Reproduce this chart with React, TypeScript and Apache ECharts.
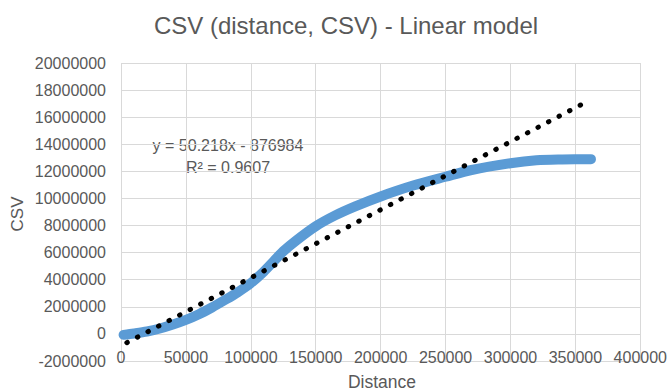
import React, { useEffect, useRef } from "react";
import * as echarts from "echarts";

const titleText = "CSV (distance, CSV) - Linear model";
const xAxisName = "Distance";
const yAxisName = "CSV";

const distance = [2000, 10000, 20000, 30000, 40000, 50000, 60000, 70000, 80000, 90000, 100000, 110000, 118000, 125000, 135000, 150000, 165000, 180000, 200000, 225000, 250000, 270000, 300000, 320000, 340000, 362000];
const csv = [-70000, 30000, 180000, 400000, 690000, 1030000, 1450000, 1950000, 2500000, 3080000, 3750000, 4600000, 5400000, 6100000, 6900000, 7950000, 8750000, 9400000, 10150000, 10950000, 11600000, 12100000, 12600000, 12820000, 12880000, 12900000];

const trendDistance = [4500, 361000];
const trendCsv = [-650000, 17250000];

const equationLines = ["y = 50.218x - 876984", "R² = 0.9607"];

const FONT = "'Liberation Sans', Arial, sans-serif";
const GRAY = "#595959";

export default function App() {
  const ref = useRef<HTMLDivElement>(null);
  useEffect(() => {
    document.body.style.margin = "0";
    const chart = echarts.init(ref.current!, null, { renderer: "svg" });
    const seriesData = distance.map((d, i) => [d, csv[i]]);
    const trendData = trendDistance.map((d, i) => [d, trendCsv[i]]);
    chart.setOption({
      animation: false,
      backgroundColor: "#ffffff",
      grid: { left: 121, right: 27, top: 63, bottom: 30 },
      xAxis: {
        type: "value",
        min: 0,
        max: 400000,
        interval: 50000,
        axisLine: { show: false },
        axisTick: { show: false },
        axisLabel: { color: GRAY, fontFamily: FONT, fontSize: 16, margin: -12, formatter: (v: number) => String(v) },
        splitLine: { show: true, lineStyle: { color: "#D9D9D9", width: 1 } },
      },
      yAxis: {
        type: "value",
        min: -2000000,
        max: 20000000,
        interval: 2000000,
        axisLine: { show: false },
        axisTick: { show: false },
        axisLabel: { color: GRAY, fontFamily: FONT, fontSize: 16, margin: 15, formatter: (v: number) => String(v) },
        splitLine: { show: true, lineStyle: { color: "#D9D9D9", width: 1 } },
      },
      series: [
        {
          type: "line",
          data: seriesData,
          smooth: 0.3,
          symbol: "none",
          lineStyle: { color: "#5B9BD5", width: 10, cap: "round", join: "round" },
          z: 2,
        },
        {
          type: "line",
          data: trendData,
          symbol: "none",
          lineStyle: { color: "#000000", width: 5, type: [0.5, 11.4], cap: "round" },
          z: 3,
        },
      ],
      graphic: [
        {
          type: "text",
          x: 346,
          y: 25,
          style: { text: titleText, fill: GRAY, font: `24px ${FONT}`, align: "center", verticalAlign: "middle" },
        },
        {
          type: "text",
          x: 382,
          y: 382,
          style: { text: xAxisName, fill: GRAY, font: `17.5px ${FONT}`, align: "center", verticalAlign: "middle" },
        },
        {
          type: "text",
          x: 17,
          y: 214,
          rotation: Math.PI / 2,
          style: { text: yAxisName, fill: GRAY, font: `17px ${FONT}`, align: "center", verticalAlign: "middle" },
        },
        {
          type: "text",
          x: 228,
          y: 145,
          style: { text: equationLines[0], fill: GRAY, font: `16px ${FONT}`, align: "center", verticalAlign: "middle" },
        },
        {
          type: "text",
          x: 228,
          y: 167,
          style: { text: equationLines[1], fill: GRAY, font: `16px ${FONT}`, align: "center", verticalAlign: "middle" },
        },
      ],
    });
    return () => chart.dispose();
  }, []);
  return <div ref={ref} style={{ width: 670, height: 391 }} />;
}
